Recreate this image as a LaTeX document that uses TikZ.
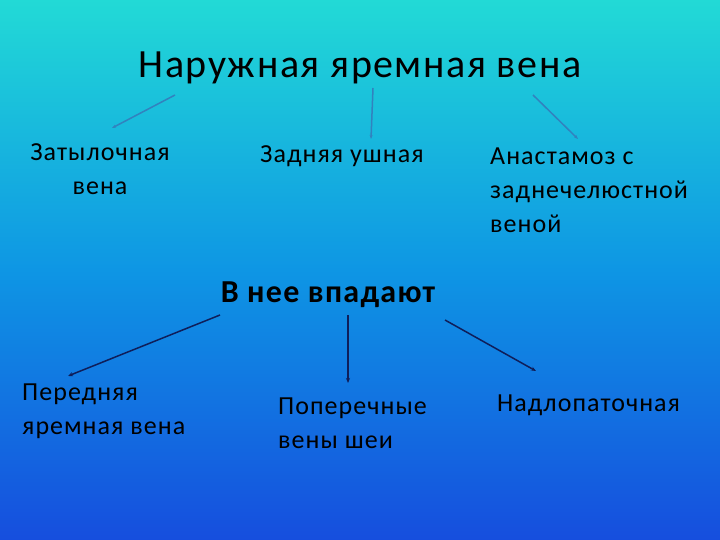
\documentclass[tikz,border=0pt]{standalone}
\usepackage{fontspec}
\setmainfont{Carlito}
\usetikzlibrary{arrows.meta}
\definecolor{topc}{RGB}{34,218,214}
\definecolor{midc}{RGB}{14,150,228}
\definecolor{botc}{RGB}{22,78,222}
\definecolor{lineA}{RGB}{50,130,190}
\definecolor{lineB}{RGB}{15,30,90}
\begin{document}
\begin{tikzpicture}[x=1pt,y=-1pt,
  txt/.style={font=\fontsize{26}{34}\selectfont\addfontfeatures{LetterSpace=4},text=black,inner sep=0pt},
  ca/.style={draw=lineA,line width=1.5pt,-{Stealth[length=4pt,width=3pt]}},
  cb/.style={draw=lineB,line width=1.5pt,-{Stealth[length=5pt,width=4pt]}}]
\shade[top color=topc,bottom color=botc,middle color=midc] (0,0) rectangle (720,540);
\useasboundingbox (0,0) rectangle (720,540);
\node[txt,font=\fontsize{40}{44}\selectfont\addfontfeatures{LetterSpace=4}] (title) at (360,68) {Наружная яремная вена};
\node[txt,align=center] (z1) at (100,169) {Затылочная\\вена};
\node[txt,anchor=west] (z2) at (260,156) {Задняя ушная};
\node[txt,align=left,anchor=north west] (z3) at (490,148) {Анастамоз с\\заднечелюстной\\веной};
\node[txt,font=\fontsize{32}{36}\bfseries\addfontfeatures{LetterSpace=4}] (mid) at (328,295) {В нее впадают};
\node[txt,align=left,anchor=north west] (b1) at (22,384) {Передняя\\яремная вена};
\node[txt,align=left,anchor=north west] (b2) at (278,398) {Поперечные\\вены шеи};
\node[txt,anchor=west] (b3) at (497,405) {Надлопаточная};
\coordinate (t1s) at (175,95); \coordinate (t1e) at (112,128);
\coordinate (t2s) at (373,88); \coordinate (t2e) at (371,139);
\coordinate (t3s) at (533,95); \coordinate (t3e) at (578,139);
\coordinate (m1s) at (220,315); \coordinate (m1e) at (68,376);
\coordinate (m2s) at (348,315); \coordinate (m2e) at (348,383);
\coordinate (m3s) at (445,320); \coordinate (m3e) at (536,371);
\draw[ca] (t1s) -- (t1e);
\draw[ca] (t2s) -- (t2e);
\draw[ca] (t3s) -- (t3e);
\draw[cb] (m1s) -- (m1e);
\draw[cb] (m2s) -- (m2e);
\draw[cb] (m3s) -- (m3e);
\end{tikzpicture}
\end{document}
